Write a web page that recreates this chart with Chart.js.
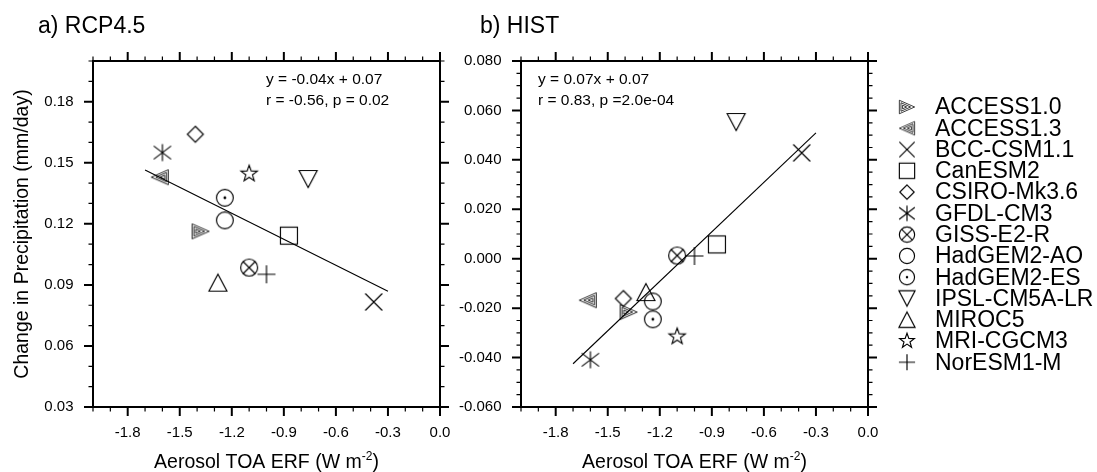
<!DOCTYPE html>
<html>
<head>
<meta charset="utf-8">
<script src="https://cdn.jsdelivr.net/npm/chart.js@4.4.1/dist/chart.umd.min.js"></script>
<style>
  html, body { margin: 0; padding: 0; background: #fff; }
  #wrap { position: relative; width: 1097px; height: 472px; }
  #wrap canvas { position: absolute; left: 0; top: 0; }
</style>
</head>
<body>
<div id="wrap">
  <canvas id="chartRcp" width="1097" height="472"></canvas>
  <canvas id="chartHist" width="1097" height="472"></canvas>
</div>
<script>
// Models and values
const models = ["ACCESS1.0", "ACCESS1.3", "BCC-CSM1.1", "CanESM2", "CSIRO-Mk3.6", "GFDL-CM3",
  "GISS-E2-R", "HadGEM2-AO", "HadGEM2-ES", "IPSL-CM5A-LR", "MIROC5", "MRI-CGCM3", "NorESM1-M"];
const markerNames = ["triRight", "triLeft", "x", "square", "diamond", "asterisk",
  "circleX", "circle", "circleDot", "triDown", "triUp", "star", "plus"];

const aerosolErf = [-1.38, -1.615, -0.382, -0.871, -1.41, -1.60, -1.10, -1.24, -1.24, -0.76, -1.28, -1.10, -1.00];
const precipRcp = [0.1163, 0.1429, 0.0816, 0.1142, 0.164, 0.155, 0.0985, 0.1217, 0.1328, 0.142, 0.0911, 0.1446, 0.0952];
const precipHist = [-0.0216, -0.0168, 0.0428, 0.0058, -0.0161, -0.0409, 0.0013, -0.0173, -0.0245, 0.0553, -0.0135, -0.0315, 0.0011];

// regression lines (end points)
const fitRcpX = [-1.70, -0.30];
const fitRcpY = [0.1465, 0.0869];
const fitHistX = [-1.70, -0.30];
const fitHistY = [-0.0425, 0.0509];

// tick labels
const xTicks = [-1.8, -1.5, -1.2, -0.9, -0.6, -0.3, 0.0];
const yTicksRcp = [0.03, 0.06, 0.09, 0.12, 0.15, 0.18];
const yTicksHist = [-0.06, -0.04, -0.02, 0.0, 0.02, 0.04, 0.06, 0.08];

const FONT = "'Liberation Sans', Arial, Helvetica, sans-serif";

// --- marker glyphs drawn into small canvases, used as Chart.js pointStyle ---
function triPath(g, pts) {
  g.beginPath();
  g.moveTo(pts[0][0], pts[0][1]);
  g.lineTo(pts[1][0], pts[1][1]);
  g.lineTo(pts[2][0], pts[2][1]);
  g.closePath();
  g.stroke();
}

function nested(g, dir) {
  // three concentric triangles pointing left (-1) or right (1)
  const cx = -3.6 * dir;
  g.lineWidth = 0.85;
  [1, 0.63, 0.27].forEach(k => {
    const pts = [[8.5 * dir, 0], [-8.5 * dir, -7.5], [-8.5 * dir, 7.5]]
      .map(p => [cx + (p[0] - cx) * k, p[1] * k]);
    triPath(g, pts);
  });
}

const glyphs = {
  triRight: g => nested(g, 1),
  triLeft: g => nested(g, -1),
  x: g => { g.beginPath(); g.moveTo(-8.5, -8.5); g.lineTo(8.5, 8.5); g.moveTo(8.5, -8.5); g.lineTo(-8.5, 8.5); g.stroke(); },
  square: g => { g.strokeRect(-8.5, -8.5, 17, 17); },
  diamond: g => { g.beginPath(); g.moveTo(0, -8); g.lineTo(8, 0); g.lineTo(0, 8); g.lineTo(-8, 0); g.closePath(); g.stroke(); },
  asterisk: g => {
    g.beginPath();
    g.moveTo(0, -8.5); g.lineTo(0, 8.5);
    g.moveTo(-8.7, -6.6); g.lineTo(8.7, 6.6);
    g.moveTo(-8.7, 6.6); g.lineTo(8.7, -6.6);
    g.stroke();
  },
  circleX: g => {
    g.beginPath(); g.arc(0, 0, 8.5, 0, Math.PI * 2); g.stroke();
    g.beginPath(); g.moveTo(-6, -6); g.lineTo(6, 6); g.moveTo(6, -6); g.lineTo(-6, 6); g.stroke();
  },
  circle: g => { g.beginPath(); g.arc(0, 0, 8.4, 0, Math.PI * 2); g.stroke(); },
  circleDot: g => {
    g.beginPath(); g.arc(0, 0, 8.4, 0, Math.PI * 2); g.stroke();
    g.beginPath(); g.arc(0, 0, 1.4, 0, Math.PI * 2); g.fill();
  },
  triDown: g => triPath(g, [[-9, -8.5], [9, -8.5], [0, 8.5]]),
  triUp: g => triPath(g, [[-9, 8.5], [9, 8.5], [0, -8.5]]),
  star: g => {
    g.beginPath();
    for (let i = 0; i < 10; i++) {
      const r = i % 2 === 0 ? 8.6 : 3.5;
      const a = -Math.PI / 2 + i * Math.PI / 5;
      if (i === 0) g.moveTo(r * Math.cos(a), r * Math.sin(a));
      else g.lineTo(r * Math.cos(a), r * Math.sin(a));
    }
    g.closePath();
    g.stroke();
  },
  plus: g => { g.beginPath(); g.moveTo(-9, 0); g.lineTo(9, 0); g.moveTo(0, -9); g.lineTo(0, 9); g.stroke(); }
};

function makeMarker(name, scale) {
  const c = document.createElement("canvas");
  c.width = 24; c.height = 24;
  const g = c.getContext("2d");
  g.strokeStyle = "#000";
  g.fillStyle = "#000";
  g.lineWidth = 1.15 / scale;
  g.translate(12, 12);
  g.scale(scale, scale);
  glyphs[name](g);
  return c;
}

const plotMarkers = markerNames.map(n => makeMarker(n, 1));
const legendMarkers = markerNames.map(n => makeMarker(n, 0.9));

// --- frame, ticks, titles and legend ---
function tickRange(min, max, step) {
  const out = [];
  const n = Math.round((max - min) / step);
  for (let i = 0; i <= n; i++) out.push(min + i * step);
  return out;
}

const framePlugin = {
  id: "frame",
  afterDraw(chart, args, o) {
    const { ctx, chartArea: a, scales: { x, y } } = chart;
    ctx.save();
    ctx.strokeStyle = "#000";
    ctx.fillStyle = "#000";

    const isMajor = (v, list) => list.some(t => Math.abs(t - v) < 1e-9);
    const drawTicks = (vals, majors, horiz) => {
      vals.forEach(v => {
        const major = isMajor(v, majors);
        const len = major ? 9 : 4.5;
        ctx.lineWidth = major ? 2 : 1.2;
        ctx.beginPath();
        if (horiz) {
          const px = x.getPixelForValue(v);
          ctx.moveTo(px, a.bottom); ctx.lineTo(px, a.bottom + len);
          ctx.moveTo(px, a.top); ctx.lineTo(px, a.top - len);
        } else {
          const py = y.getPixelForValue(v);
          ctx.moveTo(a.left, py); ctx.lineTo(a.left - len, py);
          ctx.moveTo(a.right, py); ctx.lineTo(a.right + len, py);
        }
        ctx.stroke();
      });
    };
    drawTicks(tickRange(x.min, x.max, o.xMinor), o.xMajor, true);
    drawTicks(tickRange(y.min, y.max, o.yMinor), o.yMajor, false);

    ctx.lineWidth = 2;
    ctx.strokeRect(a.left, a.top, a.right - a.left, a.bottom - a.top);

    // panel title
    ctx.textBaseline = "alphabetic";
    ctx.textAlign = "left";
    ctx.font = "23px " + FONT;
    ctx.fillText(o.title, o.titleX, 33);

    // regression text
    ctx.font = "15.5px " + FONT;
    ctx.textBaseline = "middle";
    ctx.fillText(o.eq[0], o.eqX, 80);
    ctx.fillText(o.eq[1], o.eqX, 100.5);

    // x axis title with superscript
    const cx = (a.left + a.right) / 2;
    ctx.textBaseline = "alphabetic";
    ctx.font = "19.5px " + FONT;
    const p1 = "Aerosol TOA ERF (W m", p3 = ")";
    const w1 = ctx.measureText(p1).width, w3 = ctx.measureText(p3).width;
    ctx.font = "12px " + FONT;
    const p2 = "-2";
    const w2 = ctx.measureText(p2).width;
    let sx = cx - (w1 + w2 + w3) / 2;
    ctx.font = "19.5px " + FONT;
    ctx.fillText(p1, sx, 468);
    ctx.font = "12px " + FONT;
    ctx.fillText(p2, sx + w1, 460);
    ctx.font = "19.5px " + FONT;
    ctx.fillText(p3, sx + w1 + w2, 468);

    if (o.yTitle) {
      ctx.save();
      ctx.translate(27.5, (a.top + a.bottom) / 2);
      ctx.rotate(-Math.PI / 2);
      ctx.textAlign = "center";
      ctx.fillText(o.yTitle, 0, 0);
      ctx.restore();
    }

    if (o.legend) {
      ctx.font = "23px " + FONT;
      ctx.textBaseline = "middle";
      ctx.textAlign = "left";
      models.forEach((m, i) => {
        const ly = 107 + i * 21.27;
        const mk = legendMarkers[i];
        ctx.drawImage(mk, 907 - mk.width / 2, ly - mk.height / 2);
        ctx.fillText(m, 935, ly + 1);
      });
    }
    ctx.restore();
  }
};

function makeScales(yMin, yMax, yTicks, yDigits, yWidth) {
  const tickFont = { family: FONT, size: 15 };
  return {
    x: {
      type: "linear", min: -2, max: 0,
      afterBuildTicks: s => { s.ticks = xTicks.map(v => ({ value: v })); },
      afterFit: s => { s.height = 65; },
      grid: { display: false, drawTicks: false },
      border: { display: false },
      ticks: { padding: 17, color: "#000", font: tickFont, autoSkip: false, maxRotation: 0,
        callback: v => v.toFixed(1) }
    },
    y: {
      type: "linear", min: yMin, max: yMax,
      afterBuildTicks: s => { s.ticks = yTicks.map(v => ({ value: v })); },
      afterFit: s => { s.width = yWidth; },
      grid: { display: false, drawTicks: false },
      border: { display: false },
      ticks: { padding: 19.5, color: "#000", font: tickFont, autoSkip: false,
        callback: v => v.toFixed(yDigits) }
    }
  };
}

function makeChart(id, values, fitX, fitY, scales, padding, frame) {
  return new Chart(document.getElementById(id), {
    type: "scatter",
    data: {
      datasets: [
        {
          data: aerosolErf.map((v, i) => ({ x: v, y: values[i] })),
          pointStyle: plotMarkers,
          pointRadius: 9,
          pointHoverRadius: 9
        },
        {
          type: "line",
          data: fitX.map((v, i) => ({ x: v, y: fitY[i] })),
          borderColor: "#000",
          borderWidth: 1.1,
          pointRadius: 0,
          fill: false,
          tension: 0
        }
      ]
    },
    options: {
      responsive: false,
      animation: false,
      layout: { padding },
      scales,
      plugins: {
        legend: { display: false },
        tooltip: { enabled: false },
        frame
      }
    },
    plugins: [framePlugin]
  });
}

makeChart("chartRcp", precipRcp, fitRcpX, fitRcpY,
  makeScales(0.03, 0.20, yTicksRcp, 2, 93),
  { left: 0, right: 657, top: 61, bottom: 0 },
  {
    title: "a) RCP4.5", titleX: 38,
    eq: ["y = -0.04x + 0.07", "r = -0.56, p = 0.02"], eqX: 266,
    xMajor: xTicks, xMinor: 0.1, yMajor: yTicksRcp, yMinor: 0.01,
    yTitle: "Change in Precipitation (mm/day)", legend: false
  });

makeChart("chartHist", precipHist, fitHistX, fitHistY,
  makeScales(-0.06, 0.08, yTicksHist, 3, 81),
  { left: 440, right: 229, top: 61, bottom: 0 },
  {
    title: "b) HIST", titleX: 480,
    eq: ["y = 0.07x + 0.07", "r = 0.83, p =2.0e-04"], eqX: 538,
    xMajor: xTicks, xMinor: 0.1, yMajor: yTicksHist, yMinor: 0.005,
    yTitle: null, legend: true
  });
</script>
</body>
</html>
